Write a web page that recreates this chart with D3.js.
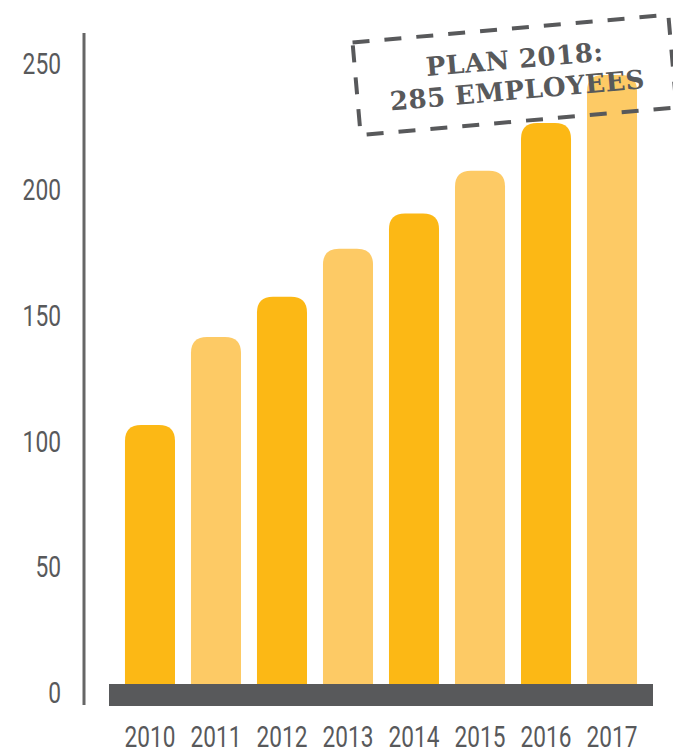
<!DOCTYPE html>
<html>
<head>
<meta charset="utf-8">
<script src="https://cdn.jsdelivr.net/npm/d3@7/dist/d3.min.js"></script>
<style>
  html, body { margin: 0; padding: 0; background: #ffffff; }
  svg { display: block; }
</style>
</head>
<body>
<svg id="chart" width="673" height="755"></svg>
<script>
// Headcount per year
const years = ["2010", "2011", "2012", "2013", "2014", "2015", "2016", "2017"];
const employees = [106, 141, 157, 176, 190, 207, 226, 245];
const yTicks = [0, 50, 100, 150, 200, 250];
const planLines = ["PLAN 2018:", "285 EMPLOYEES"];

const svg = d3.select("#chart");
const dark = "#58595b";
const barColors = ["#fcb815", "#fdca65"];

const y = d3.scaleLinear().domain([0, 250]).range([692, 62.5]);
const x = d3.scaleBand().domain(years).range([109, 653]).padding(0.242);

// Bars with rounded tops
const r = 16;
function barPath(d, i) {
  const x0 = x(years[i]), w = x.bandwidth();
  const top = y(d), bottom = 700;
  const rr = Math.min(r, w / 2);
  return `M${x0},${bottom}V${top + rr}Q${x0},${top} ${x0 + rr},${top}H${x0 + w - rr}Q${x0 + w},${top} ${x0 + w},${top + rr}V${bottom}Z`;
}
svg.append("g").selectAll("path")
  .data(employees)
  .join("path")
  .attr("d", barPath)
  .attr("fill", (d, i) => barColors[i % 2]);

// Base strip
svg.append("rect")
  .attr("x", 109).attr("y", 684)
  .attr("width", 544).attr("height", 22)
  .attr("fill", dark);

// Y axis
const yAxis = svg.append("g").attr("transform", "translate(84,0)")
  .call(d3.axisLeft(y).tickValues(yTicks).tickSize(0).tickPadding(23));
yAxis.select(".domain").remove();
yAxis.append("line")
  .attr("x1", 0).attr("x2", 0).attr("y1", 33).attr("y2", 705)
  .attr("stroke", "#666666").attr("stroke-width", 3);
yAxis.selectAll(".tick text")
  .attr("fill", dark)
  .attr("font-family", "Roboto")
  .attr("font-weight", 400)
  .attr("font-size", 30)
  .attr("dy", "0.36em")
  .attr("transform", "scale(0.76,1)")
  .attr("x", -23 / 0.76);

// X axis labels
const xAxis = svg.append("g").attr("transform", "translate(0,700)")
  .call(d3.axisBottom(x).tickSize(0).tickPadding(0));
xAxis.select(".domain").remove();
xAxis.selectAll(".tick text")
  .attr("fill", dark)
  .attr("font-family", "Roboto")
  .attr("font-weight", 400)
  .attr("font-size", 29)
  .attr("dy", 0)
  .attr("y", 47)
  .attr("transform", "scale(0.78,1)");

// Plan annotation: dashed tilted box
const note = svg.append("g").attr("transform", "translate(514,75) rotate(-5)");
note.append("rect")
  .attr("x", -158).attr("y", -46.5)
  .attr("width", 317).attr("height", 93)
  .attr("fill", "none")
  .attr("stroke", dark)
  .attr("stroke-width", 4)
  .attr("stroke-dasharray", "17,15");
note.selectAll("text")
  .data(planLines)
  .join("text")
  .attr("x", 2)
  .attr("y", (d, i) => -6.5 + i * 31)
  .attr("text-anchor", "middle")
  .attr("font-family", "DejaVu Serif")
  .attr("font-weight", "bold")
  .attr("font-size", 26)
  .attr("letter-spacing", 0.5)
  .attr("fill", dark)
  .text(d => d);
</script>
</body>
</html>
